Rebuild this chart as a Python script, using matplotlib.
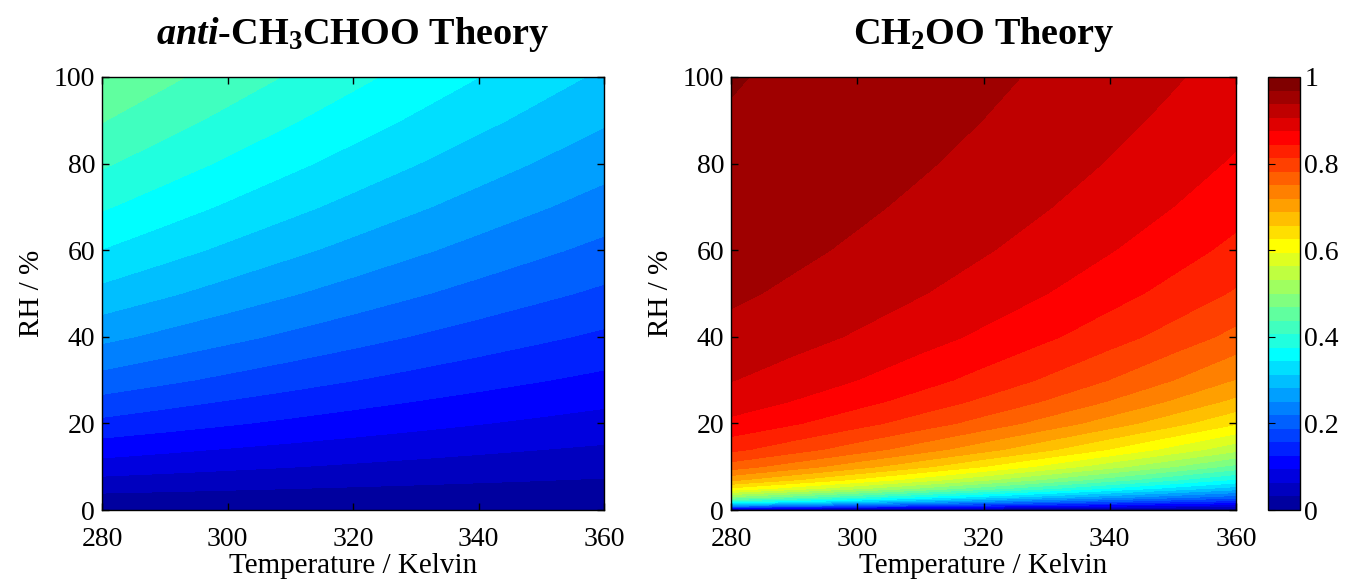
import numpy as np
import matplotlib
matplotlib.use("Agg")
import matplotlib.pyplot as plt
from matplotlib.colors import ListedColormap

# ---------------- data ----------------
temps = [280, 290, 300, 310, 320, 330, 340, 350, 360]

# anti-CH3CHOO: fraction vs (T, RH); rows = temperature, columns = RH
rh_anti = [0, 10, 20, 30, 40, 50, 60, 70, 80, 90, 100]
frac_anti = [
    [0, 0.0800, 0.1481, 0.2069, 0.2581, 0.3030, 0.3429, 0.3784, 0.4103, 0.4390, 0.4651],
    [0, 0.0740, 0.1378, 0.1934, 0.2423, 0.2856, 0.3241, 0.3588, 0.3901, 0.4184, 0.4442],
    [0, 0.0684, 0.1281, 0.1806, 0.2271, 0.2687, 0.3060, 0.3396, 0.3702, 0.3981, 0.4235],
    [0, 0.0633, 0.1190, 0.1684, 0.2127, 0.2524, 0.2883, 0.3210, 0.3507, 0.3780, 0.4031],
    [0, 0.0584, 0.1104, 0.1570, 0.1989, 0.2369, 0.2714, 0.3029, 0.3318, 0.3584, 0.3830],
    [0, 0.0540, 0.1024, 0.1461, 0.1858, 0.2219, 0.2550, 0.2854, 0.3134, 0.3392, 0.3632],
    [0, 0.0498, 0.0949, 0.1359, 0.1734, 0.2077, 0.2393, 0.2685, 0.2955, 0.3206, 0.3440],
    [0, 0.0460, 0.0879, 0.1263, 0.1616, 0.1942, 0.2243, 0.2523, 0.2783, 0.3025, 0.3252],
    [0, 0.0424, 0.0814, 0.1173, 0.1505, 0.1814, 0.2100, 0.2367, 0.2617, 0.2851, 0.3070],
]

# CH2OO: fraction vs (T, RH); rows = temperature, columns = RH
rh_ch2oo = [0, 1, 2, 3, 5, 7, 10, 14, 20, 25, 30, 40, 50, 60, 70, 80, 90, 100]
frac_ch2oo = [
    [0, 0.2463, 0.3953, 0.4950, 0.6203, 0.6958, 0.7657, 0.8206, 0.8673, 0.8909, 0.9074, 0.9289, 0.9423, 0.9515, 0.9581, 0.9632, 0.9671, 0.9703],
    [0, 0.2163, 0.3557, 0.4530, 0.5798, 0.6589, 0.7341, 0.7944, 0.8466, 0.8734, 0.8922, 0.9169, 0.9324, 0.9431, 0.9508, 0.9567, 0.9613, 0.9650],
    [0, 0.1890, 0.3179, 0.4115, 0.5382, 0.6200, 0.6997, 0.7654, 0.8233, 0.8535, 0.8749, 0.9031, 0.9210, 0.9333, 0.9422, 0.9491, 0.9545, 0.9589],
    [0, 0.1644, 0.2824, 0.3712, 0.4960, 0.5794, 0.6631, 0.7337, 0.7974, 0.8311, 0.8552, 0.8873, 0.9078, 0.9219, 0.9323, 0.9403, 0.9466, 0.9516],
    [0, 0.1425, 0.2495, 0.3327, 0.4539, 0.5378, 0.6244, 0.6994, 0.7688, 0.8060, 0.8330, 0.8693, 0.8926, 0.9089, 0.9209, 0.9301, 0.9373, 0.9433],
    [0, 0.1231, 0.2192, 0.2963, 0.4124, 0.4956, 0.5840, 0.6628, 0.7374, 0.7782, 0.8081, 0.8488, 0.8753, 0.8939, 0.9076, 0.9182, 0.9267, 0.9335],
    [0, 0.1060, 0.1917, 0.2624, 0.3722, 0.4535, 0.5424, 0.6240, 0.7034, 0.7477, 0.7805, 0.8258, 0.8557, 0.8767, 0.8925, 0.9046, 0.9143, 0.9222],
    [0, 0.0910, 0.1668, 0.2310, 0.3336, 0.4121, 0.5003, 0.5836, 0.6669, 0.7145, 0.7502, 0.8002, 0.8335, 0.8573, 0.8751, 0.8890, 0.9001, 0.9092],
    [0, 0.0780, 0.1446, 0.2023, 0.2971, 0.3718, 0.4581, 0.5421, 0.6284, 0.6789, 0.7172, 0.7718, 0.8087, 0.8353, 0.8555, 0.8712, 0.8839, 0.8942],
]

titles = [r"$\mathit{anti}$-CH$_3$CHOO Theory", r"CH$_2$OO Theory"]
xticks = [280, 300, 320, 340, 360]
yticks = [0, 20, 40, 60, 80, 100]
cbar_ticks = [0, 0.2, 0.4, 0.6, 0.8, 1]
cbar_ticklabels = ["0", "0.2", "0.4", "0.6", "0.8", "1"]


# ---------------- styling ----------------
def matlab_jet(m):
    n = int(np.ceil(m / 4))
    u = np.concatenate([np.arange(1, n + 1) / n, np.ones(n - 1), np.arange(n, 0, -1) / n])
    g = int(np.ceil(n / 2)) - (1 if m % 4 == 1 else 0) + np.arange(1, len(u) + 1)
    r = g + n
    b = g - n
    J = np.zeros((m, 3))
    for col, idx in ((0, r), (1, g), (2, b)):
        for k, val in zip(idx, u):
            if 1 <= k <= m:
                J[k - 1, col] = val
    return ListedColormap(J)


cmap = matlab_jet(32)
levels = np.linspace(0, 1, 33)

plt.rcParams["font.family"] = ["Liberation Serif", "DejaVu Serif"]
plt.rcParams["mathtext.fontset"] = "custom"
plt.rcParams["mathtext.rm"] = "Liberation Serif:bold"
plt.rcParams["mathtext.it"] = "Liberation Serif:bold:italic"
plt.rcParams["mathtext.bf"] = "Liberation Serif:bold"

W, H = 1349, 581
fig = plt.figure(figsize=(W / 100, H / 100), dpi=100)

ax_boxes = [(102, 77, 604, 510), (731, 77, 1236, 510)]
tick_fs = 20
label_fs = 21
title_fs = 27.5

cs = None
for i, (rh, frac) in enumerate([(rh_anti, frac_anti), (rh_ch2oo, frac_ch2oo)]):
    x0, y0, x1, y1 = ax_boxes[i]
    ax = fig.add_axes([x0 / W, (H - y1) / H, (x1 - x0) / W, (y1 - y0) / H])
    Z = np.array(frac).T
    cs = ax.contourf(temps, rh, Z, levels=levels, cmap=cmap, vmin=0, vmax=1,
                     antialiased=False)
    ax.set_xlim(280, 360)
    ax.set_ylim(0, 100)
    ax.set_xticks(xticks)
    ax.set_yticks(yticks)
    ax.tick_params(direction="in", top=True, right=True, length=5, width=1,
                   labelsize=tick_fs)
    ax.tick_params(axis="x", pad=12)
    ax.tick_params(axis="y", pad=5)
    ax.set_xlabel("Temperature / Kelvin", fontsize=label_fs, labelpad=1)
    ax.set_ylabel("RH / %", fontsize=label_fs, labelpad=6)
    ax.set_title(titles[i], fontsize=title_fs, fontweight="bold", pad=24)
    for s in ax.spines.values():
        s.set_linewidth(1.0)

cax = fig.add_axes([1268 / W, (H - 510) / H, 32 / W, 433 / H])
cb = fig.colorbar(cs, cax=cax, ticks=cbar_ticks)
cb.ax.set_yticklabels(cbar_ticklabels)
cb.ax.tick_params(direction="in", length=5, labelsize=tick_fs, pad=3, left=True, right=False)
cb.outline.set_linewidth(1.0)

fig.savefig("out.png", dpi=100)
